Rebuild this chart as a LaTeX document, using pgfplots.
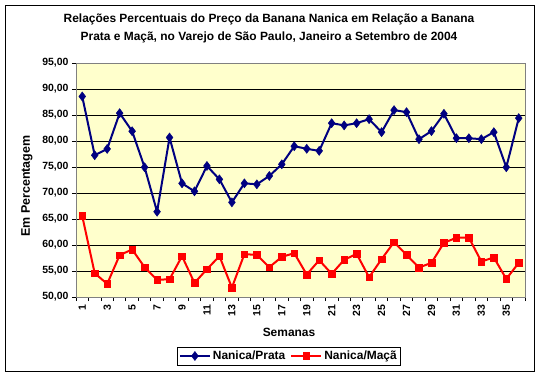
\documentclass[border=0pt]{standalone}
\usepackage{fontspec}
\setmainfont{Liberation Sans}
\usepackage{pgfplots}
\pgfplotsset{compat=1.18}
\definecolor{navyb}{RGB}{0,0,128}
\definecolor{pale}{RGB}{255,255,204}
\begin{document}
\begin{tikzpicture}
\fill[white] (0,0) rectangle (541bp,-377bp);
\draw[black, line width=1bp] (5.5bp,-5.5bp) rectangle (534.5bp,-371.5bp);
\node[font=\bfseries\fontsize{12}{18}\selectfont, align=center, inner sep=0pt] at (269bp,-28.5bp) {Relações Percentuais do Preço da Banana Nanica em Relação a Banana\\Prata e Maçã, no Varejo de São Paulo, Janeiro a Setembro de 2004};
\begin{axis}[
  at={(76bp,-297bp)}, anchor=south west,
  scale only axis, width=449bp, height=234bp,
  xmin=0.5, xmax=36.5, ymin=50, ymax=95,
  axis background/.style={fill=pale},
  axis line style={gray, line width=0.8bp},
  ytick={50,55,...,95},
  xtick={1,3,...,35},
  minor xtick={0.5,1.5,...,36.5},
  major x tick style={draw=none},
  minor x tick style={black, line width=0.8bp},
  major y tick style={black, line width=0.8bp},
  tick align=outside,
  major tick length=4bp, minor tick length=4bp,
  xtick pos=bottom, ytick pos=left,
  ymajorgrids,
  major grid style={black, line width=0.8bp},
  /pgf/number format/assume math mode=true,
  yticklabel={\pgfmathprintnumber[fixed, fixed zerofill, precision=2, use comma]{\tick}},
  ticklabel style={font=\bfseries\fontsize{10.5}{12}\selectfont},
  xticklabel style={rotate=90, anchor=east},
  legend style={at={(0.474,-0.252)}, anchor=center, legend columns=2, draw=black, line width=0.8bp,
    font=\bfseries\fontsize{12}{14}\selectfont, inner sep=2bp,
    /tikz/every even column/.append style={column sep=3bp}},
  legend image code/.code={\draw[mark repeat=2, mark phase=2, #1] plot coordinates {(0bp,0bp) (15bp,0bp) (30bp,0bp)};},
  legend cell align=left,
]
\addplot[navyb, line width=2bp, mark=diamond*, mark size=4.5bp, mark options={fill=navyb, draw=navyb, line width=0.5bp}] coordinates {
(1,88.57) (2,77.26) (3,78.48) (4,85.36) (5,81.89) (6,74.95) (7,66.40) (8,80.67) (9,71.86) (10,70.32)
(11,75.20) (12,72.63) (13,68.20) (14,71.86) (15,71.67) (16,73.28) (17,75.52) (18,79.00) (19,78.50) (20,78.10)
(21,83.43) (22,83.00) (23,83.43) (24,84.20) (25,81.70) (26,85.94) (27,85.55) (28,80.35) (29,81.90) (30,85.23)
(31,80.54) (32,80.54) (33,80.35) (34,81.70) (35,74.95) (36,84.40)};
\addlegendentry{Nanica/Prata}
\addplot[red, line width=2bp, mark=square*, mark size=3.3bp, mark options={fill=red, draw=red, line width=0.5bp}] coordinates {
(1,65.57) (2,54.58) (3,52.52) (4,58.05) (5,59.14) (6,55.73) (7,53.30) (8,53.42) (9,57.85) (10,52.71)
(11,55.35) (12,57.85) (13,51.81) (14,58.24) (15,58.10) (16,55.73) (17,57.72) (18,58.43) (19,54.32) (20,57.08)
(21,54.45) (22,57.15) (23,58.30) (24,53.80) (25,57.28) (26,60.55) (27,58.10) (28,55.67) (29,56.57) (30,60.42)
(31,61.40) (32,61.40) (33,56.83) (34,57.60) (35,53.48) (36,56.57)};
\addlegendentry{Nanica/Maçã}
\end{axis}
\node[rotate=90, font=\bfseries\fontsize{12.5}{15}\selectfont, inner sep=0pt] at (27bp,-186bp) {Em Percentagem};
\node[font=\bfseries\fontsize{12}{14}\selectfont, inner sep=0pt] at (289bp,-332.5bp) {Semanas};
\end{tikzpicture}
\end{document}
